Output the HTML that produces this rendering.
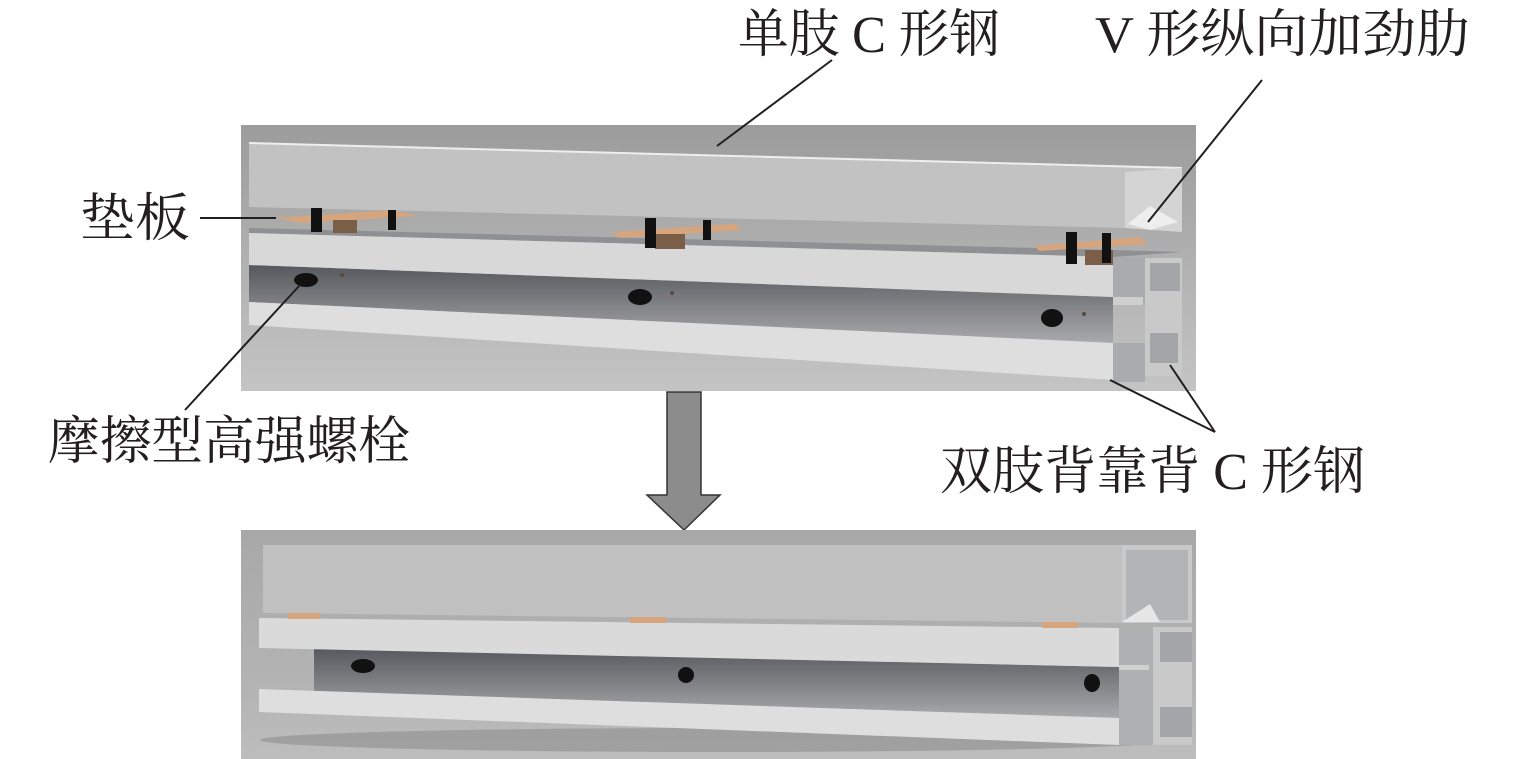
<!DOCTYPE html>
<html><head><meta charset="utf-8"><style>
html,body{margin:0;padding:0;background:#fff;width:1535px;height:759px;overflow:hidden}
svg{display:block}
text{font-family:"Liberation Serif","Noto Serif CJK SC",serif;font-size:52px;fill:#231f20}
</style></head><body>
<svg width="1535" height="759" viewBox="0 0 1535 759" xmlns="http://www.w3.org/2000/svg">
<defs>
<linearGradient id="bg" x1="0" y1="0" x2="0" y2="1">
<stop offset="0" stop-color="#9c9c9c"/><stop offset="0.5" stop-color="#b0b0b0"/><stop offset="1" stop-color="#c4c4c4"/>
</linearGradient>
<linearGradient id="bg2" x1="0" y1="0" x2="0" y2="1">
<stop offset="0" stop-color="#a8a8a8"/><stop offset="0.7" stop-color="#b4b4b4"/><stop offset="1" stop-color="#bdbdbd"/>
</linearGradient>
<linearGradient id="web" x1="0" y1="0" x2="0" y2="1">
<stop offset="0" stop-color="#55585c"/><stop offset="1" stop-color="#a8aaad"/>
</linearGradient>
</defs>
<!-- top panel -->
<rect x="241" y="125" width="955" height="266" fill="url(#bg)"/>
<polygon points="249,143 1182,168 1182,232 1125,228 249,207" fill="#c2c2c2"/>
<line x1="249" y1="143" x2="1182" y2="168" stroke="#eee" stroke-width="2"/>
<polygon points="1125,172 1182,168 1182,232 1125,228" fill="#d4d4d4"/>
<polygon points="1128,224 1150,206 1178,222 1150,230" fill="#eee"/>
<polygon points="249,228 1113,250 1182,252 1113,257 249,233" fill="#8e9094"/>
<polygon points="249,265 1113,297 1113,343 249,302" fill="url(#web)"/>
<polygon points="249,233 1113,257 1113,297 249,265" fill="#d8d8d8"/>
<polygon points="1113,257 1145,257 1145,305 1113,305" fill="#a9abae"/>
<rect x="1113" y="297" width="30" height="8" fill="#cfcfcf"/>
<polygon points="249,302 1113,343 1113,380 249,325" fill="#dedede"/>
<polygon points="1113,343 1145,343 1145,382 1113,382" fill="#a9abae"/>
<rect x="1145" y="258" width="37" height="118" fill="#c9c9c9"/>
<rect x="1150" y="263" width="30" height="28" fill="#a3a5a8"/>
<rect x="1150" y="333" width="28" height="30" fill="#a3a5a8"/>
<polygon points="276,218 392,210 418,216 300,223" fill="#d6a57d"/>
<rect x="333" y="220" width="24" height="13" fill="#7a5e48"/>
<polygon points="612,232 735,224 742,230 620,238" fill="#d6a57d"/>
<rect x="655" y="234" width="30" height="15" fill="#7a5e48"/>
<polygon points="1033,246 1140,237 1148,244 1040,251" fill="#d6a57d"/>
<rect x="1085" y="250" width="28" height="15" fill="#7a5e48"/>
<g fill="#111">
<rect x="311" y="208" width="11" height="24"/><rect x="388" y="210" width="8" height="20"/>
<rect x="645" y="218" width="11" height="30"/><rect x="703" y="220" width="8" height="20"/>
<rect x="1066" y="232" width="11" height="32"/><rect x="1102" y="233" width="9" height="30"/>
</g>
<g fill="#111">
<ellipse cx="306" cy="280" rx="12" ry="7"/><ellipse cx="640" cy="297" rx="12" ry="8"/><ellipse cx="1052" cy="318" rx="11" ry="9"/>
</g>
<g fill="#5a4a3a"><circle cx="342" cy="275" r="2"/><circle cx="672" cy="293" r="2"/><circle cx="1084" cy="314" r="2"/></g>
<!-- arrow -->
<polygon points="667,392 701,392 701,495 720,495 684,530 647,495 667,495" fill="#8c8c8c" stroke="#333" stroke-width="1.5"/>
<!-- bottom panel -->
<rect x="241" y="530" width="955" height="229" fill="url(#bg2)"/>
<ellipse cx="720" cy="740" rx="460" ry="12" fill="#8e8e8e" opacity="0.6"/>
<polygon points="314,648 1119,667 1119,718 314,697" fill="url(#web)"/>
<polygon points="263,545 1122,545 1122,623 263,613" fill="#c0c0c0"/>
<polygon points="1122,545 1192,545 1192,623 1122,623" fill="#c9c9c9"/>
<rect x="1126" y="550" width="62" height="70" fill="#b2b4b6"/>
<polygon points="1122,622 1150,604 1160,622" fill="#e6e6e6"/>
<polygon points="259,618 1119,628 1119,667 259,648" fill="#dadada"/>
<rect x="288" y="613" width="32" height="6" fill="#d6a57d"/><rect x="630" y="617" width="36" height="6" fill="#d6a57d"/><rect x="1042" y="622" width="36" height="6" fill="#d6a57d"/>
<polygon points="1119,628 1153,628 1153,745 1119,745" fill="#aeb0b3"/>
<rect x="1119" y="665" width="30" height="5" fill="#d0d0d0"/>
<rect x="1153" y="627" width="39" height="118" fill="#c9c9c9"/>
<rect x="1160" y="632" width="32" height="30" fill="#a3a5a8"/>
<rect x="1160" y="707" width="32" height="30" fill="#a3a5a8"/>
<polygon points="259,689 1119,718 1119,745 259,712" fill="#dedede"/>
<g fill="#111"><ellipse cx="363" cy="666" rx="12" ry="7"/><ellipse cx="686" cy="675" rx="8" ry="8"/><ellipse cx="1092" cy="683" rx="8" ry="9"/></g>
<!-- leader lines -->
<g stroke="#231f20" stroke-width="2" fill="none">
<line x1="832" y1="60" x2="717" y2="146"/>
<line x1="1262" y1="80" x2="1148" y2="222"/>
<line x1="200" y1="218" x2="276" y2="218"/>
<line x1="300" y1="285" x2="185" y2="410"/>
<line x1="1215" y1="432" x2="1110" y2="380"/>
<line x1="1215" y1="432" x2="1170" y2="365"/>
</g>
<text x="738" y="52" textLength="262" lengthAdjust="spacingAndGlyphs">单肢 C 形钢</text>
<text x="1095" y="52" textLength="375" lengthAdjust="spacingAndGlyphs">V 形纵向加劲肋</text>
<text x="80" y="236" textLength="110" lengthAdjust="spacingAndGlyphs">垫板</text>
<text x="48" y="459" textLength="362" lengthAdjust="spacingAndGlyphs">摩擦型高强螺栓</text>
<text x="940" y="489" textLength="425" lengthAdjust="spacingAndGlyphs">双肢背靠背 C 形钢</text>
</svg>
</body></html>
